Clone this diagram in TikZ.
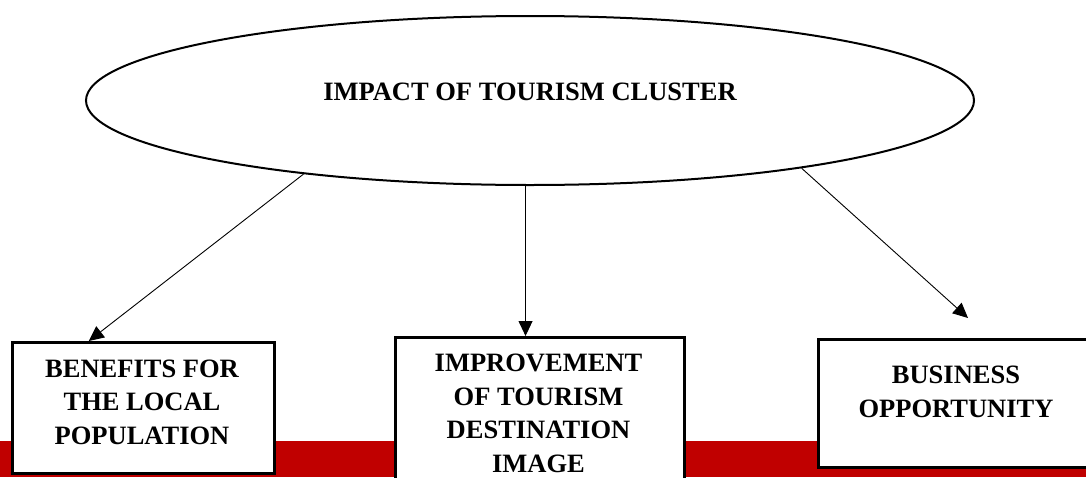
\documentclass[tikz,border=0pt]{standalone}
\usepackage{fontspec}
\setmainfont{Liberation Serif}
\usetikzlibrary{shapes.geometric,arrows.meta,calc}
\definecolor{bandred}{RGB}{192,0,0}
\tikzset{
  headline/.style={font=\fontsize{26.5}{33.5}\selectfont\bfseries, align=center, inner sep=0pt},
  topic/.style={draw=black, line width=2.5pt, fill=white, inner sep=0pt, anchor=north west},
  link/.style={line width=0.9pt, -{Triangle[length=15pt,width=14pt]}},
}
\begin{document}
\begin{tikzpicture}[x=1pt,y=-1pt]
  \useasboundingbox (0,0) rectangle (1086,477);
  \clip (0,0) rectangle (1086,477);
  % red band along the bottom
  \fill[bandred] (0,441) rectangle (1086,477);

  % central ellipse
  \node[ellipse, draw=black, line width=2pt, minimum width=888pt, minimum height=169pt, inner sep=0pt] (impact) at (530,100.5) {};
  \node[headline, anchor=base] (impacttext) at (530,100) {IMPACT OF TOURISM CLUSTER};

  % three outcome boxes (text anchored on the baseline of its last line)
  \node[topic, minimum width=262pt, minimum height=131pt] (benefits) at (11,341) {};
  \node[headline, anchor=base] (benefitstext) at (142,444)
    {BENEFITS FOR\\THE LOCAL\\POPULATION};

  \node[topic, minimum width=289pt, minimum height=160pt] (improvement) at (394,336) {};
  \node[headline, anchor=base] (improvementtext) at (538.5,472)
    {IMPROVEMENT\\OF TOURISM\\DESTINATION\\IMAGE};

  \node[topic, minimum width=280pt, minimum height=128pt] (business) at (817,338) {};
  \node[headline, anchor=base] (businesstext) at (956,417)
    {BUSINESS\\OPPORTUNITY};

  % connectors
  \coordinate (bizend) at (968,318);
  \draw[link] (impact.198) -- ($(benefits.north west)!0.294!(benefits.north east)$);
  \draw[link] (impact.-93) -- (impact.-93 |- improvement.north);
  \draw[link] (impact.-14) -- (bizend);
\end{tikzpicture}
\end{document}
